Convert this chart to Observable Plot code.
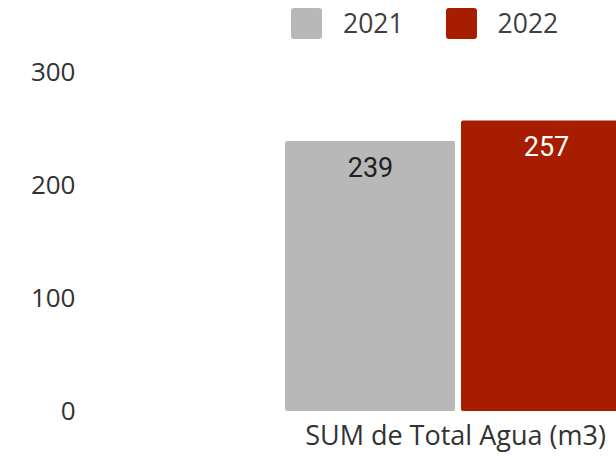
<!DOCTYPE html>
<html><head><meta charset="utf-8">
<script src="https://cdn.jsdelivr.net/npm/d3@7"></script>
<script src="https://cdn.jsdelivr.net/npm/@observablehq/plot@0.6"></script>
<style>
body{margin:0;overflow:hidden;background:#fff;font-family:"Open Sans",sans-serif;}
#wrap{position:relative;width:616px;height:468px;overflow:hidden;}
#legend{position:absolute;top:8px;left:291px;display:flex;align-items:center;height:31px;z-index:2;}
#legend .sw{width:31px;height:31px;border-radius:3px;margin-right:21px;}
#legend .lb{font-size:26.5px;color:#404040;margin-right:42px;line-height:31px;}
#chart{position:absolute;top:0;left:0;}
</style></head>
<body>
<div id="wrap"><div id="legend"></div><div id="chart"></div></div>
<script>
const category = ["SUM de Total Agua (m3)"];
const years = ["2021", "2022"];
const values = [239, 257];
const colors = ["#b8b8b8", "#a61d00"];
const yTicks = [0, 100, 200, 300];

const data = years.map((y, i) => ({cat: category[0], year: y, value: values[i]}));

const legend = document.getElementById("legend");
years.forEach((y, i) => {
  const s = document.createElement("span"); s.className = "sw"; s.style.background = colors[i];
  const l = document.createElement("span"); l.className = "lb"; l.textContent = y;
  legend.append(s, l);
});

const chart = Plot.plot({
  width: 616, height: 468,
  marginTop: 72, marginBottom: 57, marginLeft: 285, marginRight: -15,
  style: {fontFamily: "Open Sans, sans-serif", background: "transparent"},
  fx: {domain: category, paddingInner: 0, paddingOuter: 0, label: null},
  x: {domain: years, paddingInner: 0.035, paddingOuter: 0, axis: null},
  y: {domain: [0, 300], label: null},
  color: {domain: years, range: colors},
  marks: [
    Plot.barY(data, {fx: "cat", x: "year", y: "value", fill: "year", rx: 2}),
    Plot.text(data.filter(d => d.year === "2021"), {fx: "cat", x: "year", y: "value", text: d => String(d.value), fill: "#222", fontSize: 27, fontFamily: "Roboto", lineAnchor: "top", dy: 16}),
    Plot.text(data.filter(d => d.year === "2022"), {fx: "cat", x: "year", y: "value", text: d => String(d.value), fill: "#fff", fontSize: 27, fontFamily: "Roboto", lineAnchor: "top", dy: 16}),
    Plot.axisY({ticks: yTicks, tickSize: 0, tickPadding: 210, fontSize: 26, color: "#333", label: null}),
    Plot.axisFx({anchor: "bottom", tickSize: 0, tickPadding: 14, dx: -3, fontSize: 27, color: "#333", label: null})
  ]
});
document.getElementById("chart").append(chart);
</script>
</body></html>
